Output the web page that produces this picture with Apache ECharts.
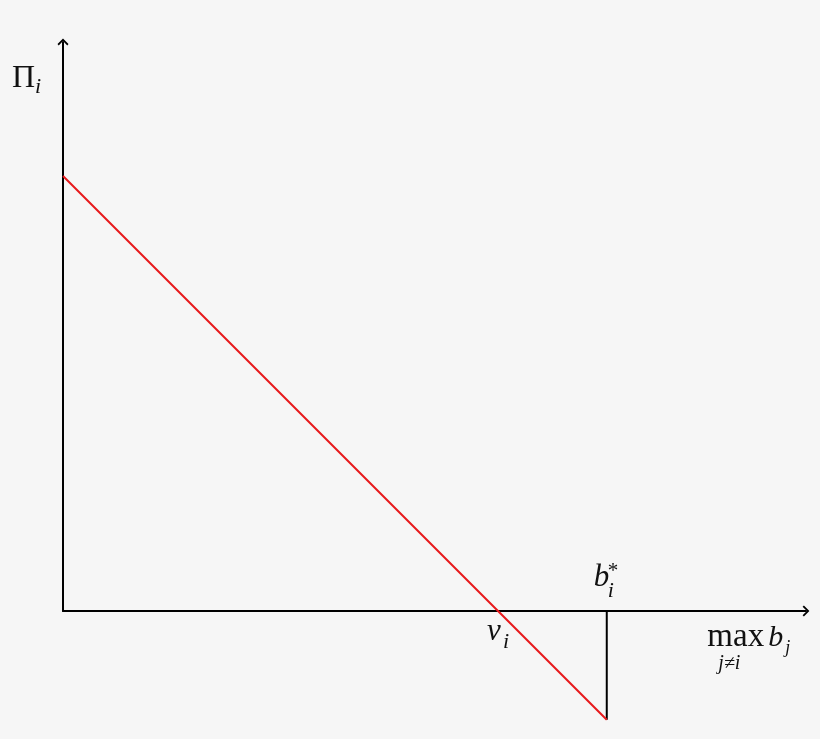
<!DOCTYPE html>
<html>
<head>
<meta charset="utf-8">
<script src="https://cdn.jsdelivr.net/npm/echarts@6/dist/echarts.min.js"></script>
<style>
  html, body { margin: 0; padding: 0; background: #f6f6f6; }
  #chart { width: 820px; height: 739px; }
</style>
</head>
<body>
<div id="chart"></div>
<script>
// valuation v_i = 1, optimal bid b_i* = 1.25 (units of v_i)
var payoffX = [0, 1, 1.25];
var payoffY = [1, 0, -0.25];
var dropX = [1.25, 1.25];
var dropY = [0, -0.25];
var xRange = [0, 1.708];
var yRange = [0, 1.308];

var serif = '"Liberation Serif", "DejaVu Serif", serif';
var chartDom = document.getElementById('chart');
var myChart = echarts.init(chartDom);

// open chevron arrow head, tip up
var arrowPath = 'path://M0,0 L5.5,5.5 L4.3,6.8 L0,2.5 L-4.3,6.8 L-5.5,5.5 Z';

function makeAxis(range) {
    return {
        type: 'value',
        min: range[0],
        max: range[1],
        axisLine: {
            show: true,
            onZero: false,
            symbol: ['none', arrowPath],
            symbolSize: [11, 6.8],
            lineStyle: { color: '#000', width: 2 }
        },
        axisTick: { show: false },
        axisLabel: { show: false },
        splitLine: { show: false }
    };
}

var option = {
    backgroundColor: '#f6f6f6',
    animation: false,
    grid: { left: 63, right: 14, top: 42, bottom: 128 },
    xAxis: makeAxis(xRange),
    yAxis: makeAxis(yRange),
    series: [
        {
            type: 'line',
            data: payoffX.map(function (x, i) { return [x, payoffY[i]]; }),
            showSymbol: false,
            clip: false,
            lineStyle: { color: '#e8191c', width: 2 },
            z: 3
        },
        {
            type: 'line',
            data: dropX.map(function (x, i) { return [x, dropY[i]]; }),
            showSymbol: false,
            clip: false,
            lineStyle: { color: '#000', width: 2 },
            z: 2
        }
    ]
};

option && myChart.setOption(option);

// labels, placed relative to the data points they name (given by baseline)
function px(x, y) { return myChart.convertToPixel({ gridIndex: 0 }, [x, y]); }
function txt(x, base, s, size, italic) {
    return {
        type: 'text', x: x, y: base - 0.78 * size, z: 10,
        style: {
            text: s, fontFamily: serif, fontSize: size,
            fontStyle: italic ? 'italic' : 'normal',
            fill: '#111'
        }
    };
}
var pi = px(0, 1.225), pv = px(1, 0), pb = px(1.25, 0), pm = px(1.58, 0);
myChart.setOption({
    graphic: [
        txt(pi[0] - 51, pi[1] + 9, 'Π', 32, false),
        txt(pi[0] - 28, pi[1] + 15, 'i', 22, true),
        txt(pv[0] - 11, pv[1] + 30, 'v', 31, true),
        txt(pv[0] + 5, pv[1] + 37, 'i', 22, true),
        txt(pb[0] - 13, pb[1] - 24, 'b', 31, true),
        txt(pb[0] + 1, pb[1] - 14, 'i', 22, true),
        txt(pb[0] + 1, pb[1] - 34, '*', 21, false),
        txt(pm[0] - 43, pm[1] + 36, 'max', 33, false),
        txt(pm[0] - 32, pm[1] + 58, 'j≠i', 20, true),
        txt(pm[0] + 18, pm[1] + 36, 'b', 30, true),
        txt(pm[0] + 35, pm[1] + 42, 'j', 18, true)
    ]
});

window.addEventListener('resize', function () {
    myChart.resize();
});
</script>
</body>
</html>
